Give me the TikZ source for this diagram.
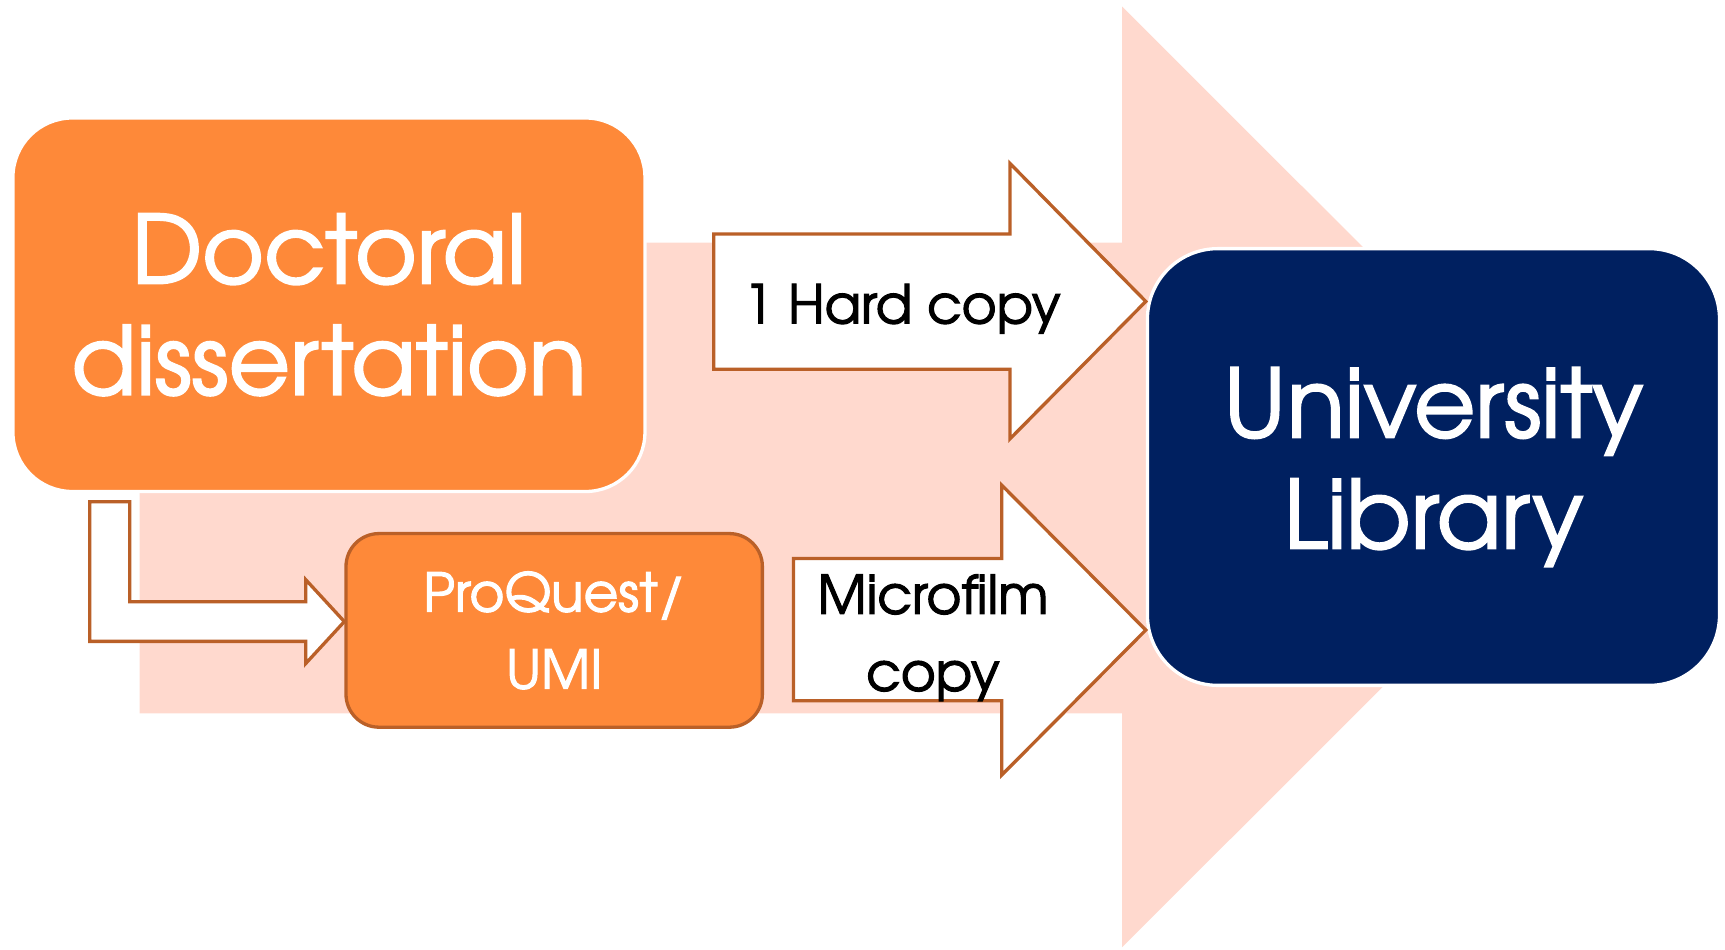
\documentclass[tikz,border=0pt]{standalone}
\usepackage{fontspec}
\setmainfont[FakeBold=2]{TeX Gyre Adventor}
\definecolor{docorange}{RGB}{254,137,57}
\definecolor{arrowbrown}{RGB}{186,96,40}
\definecolor{flowpink}{RGB}{255,217,206}
\definecolor{libnavy}{RGB}{0,32,96}
\begin{document}
\begin{tikzpicture}[x=0.5pt,y=-0.5pt,
  bigbox/.style={draw=white,line width=1.5pt,fill=docorange,text=white,align=center,inner sep=0pt,font=\fontsize{43}{50.5}\selectfont},
  smallbox/.style={draw=arrowbrown,line width=1.5pt,fill=docorange,text=white,align=center,inner sep=0pt,rounded corners=15pt,font=\fontsize{24.3}{35}\selectfont},
  blockarrow/.style={draw=arrowbrown,line width=1.5pt,fill=white},
  arrowtext/.style={align=center,inner sep=0pt,font=\fontsize{24.3}{35}\selectfont}]
\useasboundingbox (0,0) rectangle (1568,862.7);
% big pale arrow behind everything
\fill[flowpink] (127,220.6) -- (1020,220.6) -- (1020,6) -- (1448,433.5) -- (1020,861) -- (1020,648.5) -- (127,648.5) -- cycle;
\node[bigbox,rounded corners=27pt,minimum width=287.25pt,minimum height=169.75pt] (doc) at (299,277) {Doctoral\\dissertation};
\node[smallbox,minimum width=189.25pt,minimum height=88pt] (pq) at (503.75,573) {ProQuest/\\UMI};
\node[bigbox,fill=libnavy,rounded corners=32pt,minimum width=260pt,minimum height=198.5pt] (lib) at (1303,424.5) {University\\Library};
% block arrows
\coordinate (pqtip) at (pq.west |- 0,565);
\coordinate (hardtip) at (lib.west |- 0,274);
\coordinate (microtip) at (lib.west |- 0,572.7);
\draw[blockarrow] (81.5,456) -- (118,456) -- (118,547) -- (278,547) -- (278,527) -- (pqtip) -- (278,603) -- (278,583) -- (81.5,583) -- cycle;
\draw[blockarrow] (648.8,212.7) -- (918,212.7) -- (918,148.5) -- (hardtip) -- (918,399) -- (918,335.7) -- (648.8,335.7) -- cycle;
\draw[blockarrow] (721.2,507.6) -- (910.6,507.6) -- (910.6,441) -- (microtip) -- (910.6,704.5) -- (910.6,637) -- (721.2,637) -- cycle;
\node[arrowtext,anchor=base west] (hard) at (675.6,294) {1 Hard copy};
\node[arrowtext,anchor=base] (micro) at (848,628) {Microfilm\\copy};
\end{tikzpicture}
\end{document}
